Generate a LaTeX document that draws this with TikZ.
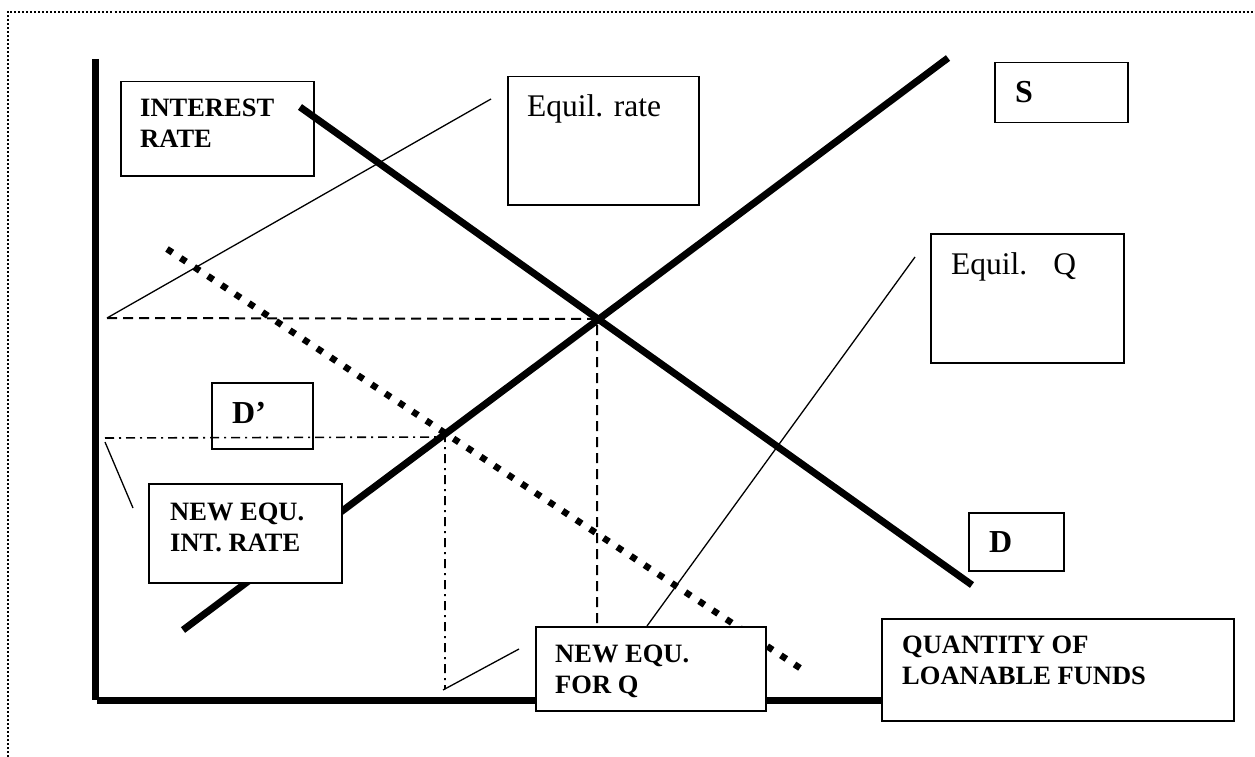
\documentclass[tikz,border=0pt]{standalone}
\usepackage{fontspec}
\setmainfont{Liberation Serif}
\newcommand\bftxt{\fontsize{26.5}{31}\selectfont\bfseries}
\newcommand\bigbftxt{\fontsize{32}{37}\selectfont\bfseries}
\newcommand\rmtxt{\fontsize{31.5}{37}\selectfont}
\newcommand\twolines[2]{\begin{tabular}[t]{@{}l@{}}#1\\#2\end{tabular}}
\begin{document}
\begin{tikzpicture}[x=1pt,y=-1pt,
  frame/.style={line width=2pt,dash pattern=on 2pt off 2pt},
  axis/.style={line width=7pt},
  curve/.style={line width=7pt},
  shifted/.style={line width=6.5pt,dash pattern=on 6.5pt off 9.86pt},
  guide/.style={line width=2pt,dash pattern=on 10pt off 6pt},
  newguide/.style={line width=1.6pt,dash pattern=on 9pt off 5pt on 2pt off 5pt},
  pointer/.style={line width=1.3pt},
  box/.style={draw,line width=1.5pt,fill=white,inner sep=0pt,anchor=north west},
  openbox/.style={draw,line width=1.5pt,inner sep=0pt,anchor=north west},
  lbl/.style={inner sep=0pt,anchor=base west,font=\bftxt},
  biglbl/.style={inner sep=0pt,anchor=base west,font=\bigbftxt},
  rlbl/.style={inner sep=0pt,anchor=base west,font=\rmtxt}]
\useasboundingbox (0,0) rectangle (1255,757);
% frame
\coordinate (f1) at (7.5,757);
\coordinate (f2) at (7.5,12);
\coordinate (f3) at (1255,12);
\draw[frame] (f1) -- (f2) -- (f3);
% axes
\coordinate (ytop) at (95.5,59);
\coordinate (ybot) at (95.5,700);
\coordinate (xbeg) at (97,700.5);
\coordinate (xend) at (881,700.5);
\draw[axis] (ytop) -- (ybot);
\draw[axis] (xbeg) -- (xend);
% equilibrium points
\coordinate (E) at (597,319);
\coordinate (E2) at (445,437);
\coordinate (Eleft) at (107,318);
\coordinate (Ebot) at (597,700);
\coordinate (E2left) at (105,438);
\coordinate (E2bot) at (445,689);
\draw[guide] (Eleft) -- (E) -- (Ebot);
\draw[newguide] (E2left) -- (E2) -- (E2bot);
% curves
\coordinate (S1) at (183,630);
\coordinate (S2) at (948,58);
\coordinate (D1) at (300,107);
\coordinate (D2) at (972,585);
\coordinate (Dp1) at (167,249);
\coordinate (Dp2) at (800,668);
\draw[curve] (S1) -- (S2);
\draw[curve] (D1) -- (D2);
\draw[shifted] (Dp1) -- (Dp2);
% pointers
\coordinate (p1) at (491,99);
\coordinate (p2a) at (915,257);
\coordinate (p2b) at (647,626);
\coordinate (p3a) at (105,442);
\coordinate (p3b) at (133,508);
\coordinate (p4a) at (443,690);
\coordinate (p4b) at (519,649);
\draw[pointer] (Eleft) -- (p1);
\draw[pointer] (p2a) -- (p2b);
\draw[pointer] (p3a) -- (p3b);
\draw[pointer] (p4a) -- (p4b);
% boxes
\node[openbox,minimum width=193pt,minimum height=94pt] (irbox) at (120,81) {};
\node[lbl] (irtxt) at (140,117) {\twolines{INTEREST}{RATE}};
\node[box,minimum width=191pt,minimum height=128pt] (erbox) at (507,76) {};
\node[rlbl] (ertxt) at (527,117) {Equil. rate};
\node[box,minimum width=133pt,minimum height=60pt] (sbox) at (994,62) {};
\node[biglbl] (stxt) at (1015,103) {S};
\node[box,minimum width=193pt,minimum height=129pt] (eqbox) at (930,233) {};
\node[rlbl] (eqtxt) at (951,274) {Equil.\hspace{26pt}Q};
\node[openbox,minimum width=101pt,minimum height=66pt] (dpbox) at (211,382) {};
\node[biglbl] (dptxt) at (232,423) {D’};
\node[box,minimum width=193pt,minimum height=99pt] (nirbox) at (148,483) {};
\node[lbl] (nirtxt) at (170,520) {\twolines{NEW EQU.}{INT. RATE}};
\node[box,minimum width=95pt,minimum height=58pt] (dbox) at (968,512) {};
\node[biglbl] (dtxt) at (989,552) {D};
\node[box,minimum width=230pt,minimum height=84pt] (nqbox) at (535,626) {};
\node[lbl] (nqtxt) at (555,662) {\twolines{NEW EQU.}{FOR Q}};
\node[box,minimum width=352pt,minimum height=102pt] (qlbox) at (881,618) {};
\node[lbl] (qltxt) at (902,653) {\twolines{QUANTITY OF}{LOANABLE FUNDS}};
\end{tikzpicture}
\end{document}
